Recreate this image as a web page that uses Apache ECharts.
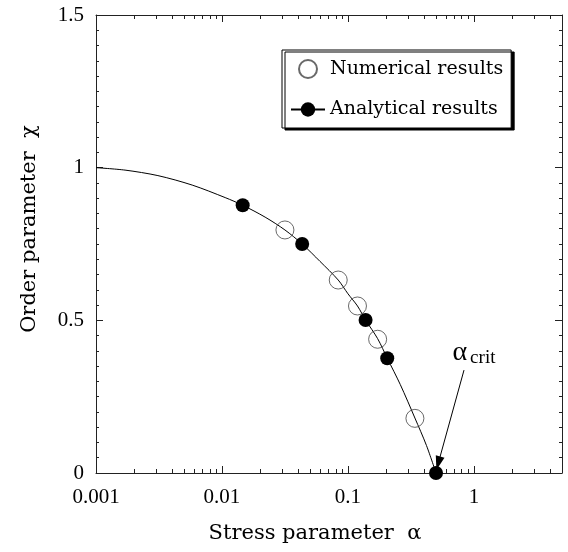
<!DOCTYPE html>
<html>
<head>
<meta charset="utf-8">
<script src="https://cdn.jsdelivr.net/npm/echarts@6/dist/echarts.min.js"></script>
<style>
  html, body { margin: 0; padding: 0; background: #fff; }
  #chart { width: 568px; height: 552px; }
</style>
</head>
<body>
<div id="chart"></div>
<script>
// numerical results (open circles)
var numAlpha = [0.0316, 0.0837, 0.119, 0.172, 0.340];
var numChi = [0.796, 0.632, 0.547, 0.438, 0.179];
// analytical results (filled dots, on the curve)
var anaAlpha = [0.0146, 0.0433, 0.138, 0.205, 0.5];
var anaChi = [0.877, 0.750, 0.501, 0.376, 0];
// analytical curve
var curveAlpha = [0.001, 0.0017, 0.0031, 0.0058, 0.0106, 0.022, 0.0316, 0.06, 0.0837, 0.1, 0.119, 0.172, 0.26, 0.34, 0.42];
var curveChi = [1.0, 0.992, 0.974, 0.943, 0.902, 0.838, 0.796, 0.693, 0.632, 0.587, 0.547, 0.44, 0.29, 0.18, 0.09];
// axis ticks
var xMajor = [0.001, 0.01, 0.1, 1];
var xMinor = [0.002, 0.003, 0.004, 0.005, 0.006, 0.007, 0.008, 0.009,
  0.02, 0.03, 0.04, 0.05, 0.06, 0.07, 0.08, 0.09,
  0.2, 0.3, 0.4, 0.5, 0.6, 0.7, 0.8, 0.9, 2, 3, 4];

var numFont = "Liberation Serif";
var textFont = "DejaVu Serif";
var chart = echarts.init(document.getElementById("chart"));

// curve + analytical dots in one line series, dots only where analytical
var lineData = [];
curveAlpha.forEach(function(a, i) {
  lineData.push({ value: [a, curveChi[i]], symbol: "none" });
});
anaAlpha.forEach(function(a, i) {
  lineData.push({ value: [a, anaChi[i]] });
});
lineData.sort(function(p, q) { return p.value[0] - q.value[0]; });

var numData = numAlpha.map(function(a, i) { return [a, numChi[i]]; });

var gridRect = { left: 96, top: 15, width: 466, height: 458, containLabel: false };

function majorX(pos, labels) {
  return {
    type: "log", logBase: 10, min: 0.001, max: 5, gridIndex: 0, position: pos,
    axisLine: { show: true, onZero: false, lineStyle: { color: "#222", width: 1 } },
    axisTick: { show: true, inside: true, length: 7, customValues: xMajor, lineStyle: { color: "#222" } },
    axisLabel: {
      show: labels, customValues: xMajor, margin: 14,
      fontFamily: numFont, fontSize: 21, color: "#000",
      formatter: function(v) { return String(+v.toPrecision(3)); }
    },
    splitLine: { show: false },
    name: labels ? "Stress parameter  α" : "",
    nameLocation: "middle", nameGap: 50,
    nameTextStyle: { fontFamily: textFont, fontSize: 21, color: "#000", padding: [0, 28, 0, 0] }
  };
}
function minorX(pos) {
  return {
    type: "log", logBase: 10, min: 0.001, max: 5, gridIndex: 1, position: pos,
    axisLine: { show: false, onZero: false },
    axisTick: { show: true, inside: true, length: 4, customValues: xMinor, lineStyle: { color: "#222" } },
    axisLabel: { show: false },
    splitLine: { show: false }
  };
}
function yAx(pos, labels) {
  return {
    type: "value", min: 0, max: 1.5, interval: 0.5, gridIndex: 0, position: pos,
    axisLine: { show: true, onZero: false, lineStyle: { color: "#222", width: 1 } },
    axisTick: { show: true, inside: true, length: 7, lineStyle: { color: "#222" } },
    minorTick: { show: true, splitNumber: 10, length: 3, lineStyle: { color: "#222" } },
    axisLabel: { show: labels, margin: 12, fontFamily: numFont, fontSize: 21, color: "#000" },
    splitLine: { show: false },
    name: labels ? "Order parameter  χ" : "",
    nameLocation: "middle", nameGap: 56, nameRotate: 90,
    nameTextStyle: { fontFamily: textFont, fontSize: 21, color: "#000", padding: [0, 0, 0, 30] }
  };
}

var option = {
  animation: false,
  backgroundColor: "#fff",
  grid: [Object.assign({}, gridRect), Object.assign({}, gridRect)],
  xAxis: [majorX("bottom", true), majorX("top", false), minorX("bottom"), minorX("top")],
  yAxis: [
    yAx("left", true), yAx("right", false),
    {
      type: "value", gridIndex: 1, min: 0, max: 1.5,
      axisLine: { show: false }, axisTick: { show: false },
      axisLabel: { show: false }, splitLine: { show: false }
    }
  ],
  legend: {
    orient: "vertical",
    left: 282, top: 50,
    padding: [9, 8, 9, 8],
    itemWidth: 34, itemHeight: 18, itemGap: 21,
    backgroundColor: "#fff",
    borderColor: "#000", borderWidth: 1,
    shadowColor: "#000", shadowBlur: 0, shadowOffsetX: 3, shadowOffsetY: 2,
    textStyle: { fontFamily: textFont, fontSize: 19, color: "#000" },
    data: ["Numerical results", "Analytical results"]
  },
  series: [
    {
      name: "Analytical results",
      type: "line",
      xAxisIndex: 0, yAxisIndex: 0,
      data: lineData,
      smooth: 0.3,
      symbol: "circle",
      symbolSize: 14,
      showSymbol: true,
      showAllSymbol: true,
      lineStyle: { color: "#000", width: 1 },
      itemStyle: { color: "#000" },
      z: 3,
      markLine: {
        silent: true,
        symbol: ["none", "triangle"],
        symbolSize: [9, 14],
        lineStyle: { color: "#000", width: 1, type: "solid" },
        label: { show: false },
        data: [[{ coord: [0.834, 0.337] }, { coord: [0.521, 0.032] }]]
      },
      markPoint: {
        silent: true,
        symbol: "circle",
        symbolSize: 0,
        label: {
          show: true,
          position: "inside",
          formatter: "{a|α}{s|crit}",
          rich: {
            a: { fontFamily: numFont, fontSize: 28, color: "#000" },
            s: { fontFamily: numFont, fontSize: 19, color: "#000", padding: [12, 0, 0, 3] }
          }
        },
        data: [{ coord: [1.0, 0.395] }]
      }
    },
    {
      name: "Numerical results",
      type: "scatter",
      xAxisIndex: 0, yAxisIndex: 0,
      data: numData,
      symbol: "circle",
      symbolSize: 18,
      itemStyle: { color: "rgba(255,255,255,0)", borderColor: "#444", borderWidth: 1 },
      z: 4
    }
  ]
};
chart.setOption(option);
</script>
</body>
</html>
